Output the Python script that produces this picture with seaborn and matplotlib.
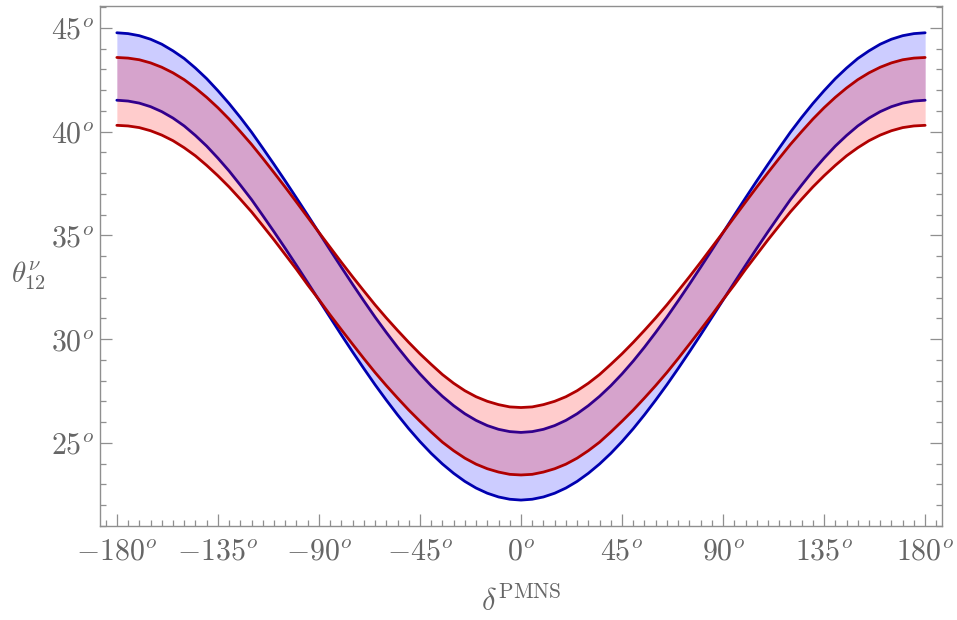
import matplotlib
matplotlib.use("Agg")
import matplotlib.pyplot as plt
import seaborn as sns
import pandas as pd
from matplotlib.ticker import MultipleLocator, FixedLocator, FuncFormatter

# Dirac phase grid (degrees), 5 degree steps
delta = list(range(-180, 181, 5))

# blue band: upper and lower boundary of theta_12^nu (degrees)
blue_upper = [44.76, 44.72, 44.62, 44.45, 44.21, 43.89, 43.52, 43.06, 42.55, 41.97,
              41.35, 40.68, 39.97, 39.20, 38.42, 37.62, 36.80, 35.97, 35.13, 34.29,
              33.46, 32.64, 31.84, 31.06, 30.32, 29.61, 28.94, 28.32, 27.75, 27.24,
              26.79, 26.40, 26.08, 25.83, 25.65, 25.54, 25.50,
              25.54, 25.65, 25.83, 26.08, 26.40, 26.79, 27.24, 27.75, 28.32, 28.94,
              29.61, 30.32, 31.06, 31.84, 32.64, 33.46, 34.29, 35.13, 35.97, 36.80,
              37.62, 38.42, 39.20, 39.97, 40.68, 41.35, 41.97, 42.55, 43.06, 43.52,
              43.89, 44.21, 44.45, 44.62, 44.72, 44.76]
blue_lower = [41.51, 41.47, 41.37, 41.20, 40.96, 40.65, 40.27, 39.81, 39.30, 38.72,
              38.10, 37.42, 36.72, 35.95, 35.17, 34.37, 33.55, 32.72, 31.88, 31.04,
              30.20, 29.38, 28.58, 27.80, 27.06, 26.35, 25.68, 25.06, 24.49, 23.98,
              23.53, 23.14, 22.82, 22.57, 22.39, 22.28, 22.24,
              22.28, 22.39, 22.57, 22.82, 23.14, 23.53, 23.98, 24.49, 25.06, 25.68,
              26.35, 27.06, 27.80, 28.58, 29.38, 30.20, 31.04, 31.88, 32.72, 33.55,
              34.37, 35.17, 35.95, 36.72, 37.42, 38.10, 38.72, 39.30, 39.81, 40.27,
              40.65, 40.96, 41.20, 41.37, 41.47, 41.51]

# red band: upper and lower boundary of theta_12^nu (degrees)
red_upper = [43.57, 43.54, 43.46, 43.31, 43.10, 42.83, 42.50, 42.10, 41.65, 41.15,
             40.60, 40.00, 39.38, 38.71, 38.02, 37.32, 36.60, 35.87, 35.14, 34.42,
             33.70, 33.00, 32.32, 31.65, 31.02, 30.42, 29.84, 29.29, 28.78, 28.29,
             27.87, 27.51, 27.22, 27.00, 26.84, 26.73, 26.70,
             26.73, 26.84, 27.00, 27.22, 27.51, 27.87, 28.29, 28.78, 29.29, 29.84,
             30.42, 31.02, 31.65, 32.32, 33.00, 33.70, 34.42, 35.14, 35.87, 36.60,
             37.32, 38.02, 38.71, 39.38, 40.00, 40.60, 41.15, 41.65, 42.10, 42.50,
             42.83, 43.10, 43.31, 43.46, 43.54, 43.57]
red_lower = [40.30, 40.27, 40.19, 40.04, 39.83, 39.56, 39.22, 38.83, 38.37, 37.87,
             37.33, 36.74, 36.13, 35.46, 34.78, 34.07, 33.36, 32.61, 31.90, 31.16,
             30.45, 29.75, 29.06, 28.39, 27.76, 27.16, 26.58, 26.04, 25.52, 25.03,
             24.62, 24.26, 23.97, 23.75, 23.59, 23.48, 23.45,
             23.48, 23.59, 23.75, 23.97, 24.26, 24.62, 25.03, 25.52, 26.04, 26.58,
             27.16, 27.76, 28.39, 29.06, 29.75, 30.45, 31.16, 31.90, 32.61, 33.36,
             34.07, 34.78, 35.46, 36.13, 36.74, 37.33, 37.87, 38.37, 38.83, 39.22,
             39.56, 39.83, 40.04, 40.19, 40.27, 40.30]

x_ticks = [-180, -135, -90, -45, 0, 45, 90, 135, 180]
y_ticks = [25, 30, 35, 40, 45]

BLUE_LINE = "#0000b0"
RED_LINE = "#b00000"
FRAME = "#8f8f8f"
TEXT = "#666666"

df = pd.DataFrame({"delta": delta, "blue_upper": blue_upper, "blue_lower": blue_lower,
                   "red_upper": red_upper, "red_lower": red_lower})

sns.set_theme(style="white")
plt.rcParams["mathtext.fontset"] = "cm"
plt.rcParams["font.family"] = ["DejaVu Serif"]

fig, ax = plt.subplots(figsize=(9.57, 6.2), dpi=100)
fig.subplots_adjust(left=0.1045, right=0.9843, top=0.9903, bottom=0.1516)

# blue band with its boundary curves
ax.fill_between(df["delta"], df["blue_lower"], df["blue_upper"],
                color=(0, 0, 1), alpha=0.2, lw=0, zorder=1)
for col in ["blue_upper", "blue_lower"]:
    sns.lineplot(data=df, x="delta", y=col, color=BLUE_LINE, lw=2.0,
                 ax=ax, zorder=2, errorbar=None)

# red band drawn over it
ax.fill_between(df["delta"], df["red_lower"], df["red_upper"],
                color=(1, 0, 0), alpha=0.2, lw=0, zorder=3)
for col in ["red_upper", "red_lower"]:
    sns.lineplot(data=df, x="delta", y=col, color=RED_LINE, lw=2.0,
                 ax=ax, zorder=4, errorbar=None)

ax.set_xlim(-187.5, 187.5)
ax.set_ylim(20.99, 46.05)

ax.xaxis.set_major_locator(FixedLocator(x_ticks))
ax.xaxis.set_minor_locator(MultipleLocator(5))
ax.yaxis.set_major_locator(FixedLocator(y_ticks))
ax.yaxis.set_minor_locator(MultipleLocator(1))
deg_fmt = FuncFormatter(lambda v, _: r"$%d^{o}$" % int(round(v)))
ax.xaxis.set_major_formatter(deg_fmt)
ax.yaxis.set_major_formatter(deg_fmt)

ax.tick_params(which="both", direction="in", color=FRAME, labelcolor=TEXT,
               bottom=True, left=True, right=True, top=False, width=0.9)
ax.tick_params(which="major", length=8.5, labelsize=21.5)
ax.tick_params(which="minor", length=4.5)
ax.tick_params(axis="x", which="major", pad=8)
ax.tick_params(axis="y", which="major", pad=4)

for sp in ax.spines.values():
    sp.set_color(FRAME)
    sp.set_linewidth(1.0)
    sp.set_visible(True)

ax.set_xlabel(r"$\delta^{\rm PMNS}$", fontsize=22, color=TEXT, labelpad=16)
ax.set_ylabel("")
fig.text(0.012, 0.555, r"$\theta_{12}^{\nu}$", fontsize=21, color=TEXT,
         ha="left", va="center")

fig.savefig("out.png", dpi=100)
